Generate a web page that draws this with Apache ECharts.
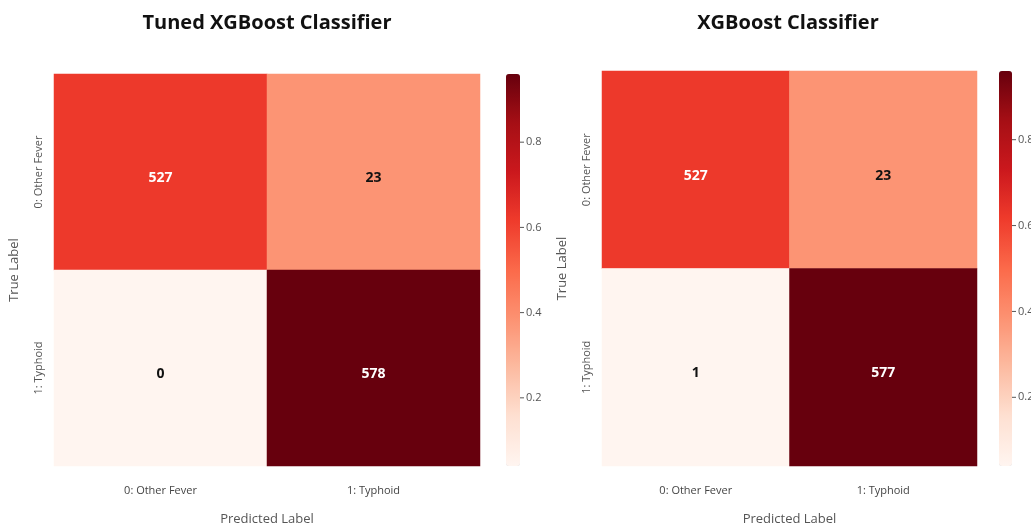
<!DOCTYPE html>
<html>
<head>
<meta charset="utf-8">
<script src="https://cdn.jsdelivr.net/npm/echarts@6/dist/echarts.min.js"></script>
<style>
  html, body { margin: 0; padding: 0; background: #fff; }
  #chart { width: 1031px; height: 527px; }
</style>
</head>
<body>
<div id="chart"></div>
<script>
// classes on both axes
const classLabels = ['0: Other Fever', '1: Typhoid']
const titles = ['Tuned XGBoost Classifier', 'XGBoost Classifier']

// confusion matrix counts, rows = true label, cols = predicted label
const tunedCounts = [[527, 23], [0, 578]]
const baseCounts = [[527, 23], [1, 577]]

// colour value of each cell
const tunedShade = [[0.62, 0.38], [0.04, 0.96]]
const baseShade = [[0.62, 0.38], [0.04, 0.96]]

// colour bar range and ticks
const barMin = 0.04
const barMax = 0.96
const barTicks = [0.2, 0.4, 0.6, 0.8]

const reds = ['#fff5f0', '#fee0d2', '#fcbba1', '#fc9272', '#fb6a4a', '#ef3b2c', '#cb181d', '#a50f15', '#67000d']

function cells(counts, shade) {
  const out = []
  counts.forEach((row, r) => {
    row.forEach((v, c) => out.push([c, r, shade[r][c], v]))
  })
  return out
}

const font = 'Open Sans'
const panels = [
  { grid: { left: 54, top: 74, width: 426, height: 392 }, bar: { left: 506, top: 74, width: 14, height: 392 }, titleX: 262 },
  { grid: { left: 602, top: 71, width: 375, height: 395 }, bar: { left: 999, top: 71, width: 13, height: 395 }, titleX: 783 }
]

const chart = echarts.init(document.getElementById('chart'))

const option = {
  backgroundColor: '#fff',
  textStyle: { fontFamily: font },
  title: panels.map((p, i) => ({
    text: titles[i],
    left: p.titleX,
    top: 8,
    textAlign: 'center',
    textStyle: { fontFamily: font, fontSize: 20, fontWeight: 'bold', color: '#111' }
  })),
  grid: [],
  xAxis: [],
  yAxis: [],
  visualMap: [],
  series: []
}

panels.forEach((p, i) => {
  // heatmap grid
  option.grid.push(Object.assign({ outerBoundsMode: 'none', containLabel: false }, p.grid))
  option.xAxis.push({
    type: 'category',
    gridIndex: i * 2,
    data: classLabels,
    axisLine: { show: false },
    axisTick: { show: false },
    splitArea: { show: false },
    axisLabel: { fontSize: 11, color: '#444', margin: 19 },
    name: 'Predicted Label',
    nameLocation: 'middle',
    nameGap: 47,
    nameTextStyle: { fontSize: 13, color: '#555' }
  })
  option.yAxis.push({
    type: 'category',
    gridIndex: i * 2,
    inverse: true,
    data: classLabels,
    axisLine: { show: false },
    axisTick: { show: false },
    splitArea: { show: false },
    axisLabel: { fontSize: 11, color: '#555', rotate: 90, margin: 10 },
    name: 'True Label',
    nameLocation: 'middle',
    nameGap: 33,
    nameTextStyle: { fontSize: 13, color: '#555' }
  })

  // colour bar axis
  option.grid.push({ outerBoundsMode: 'none', containLabel: false, left: p.bar.left, top: p.bar.top, width: p.bar.width, height: p.bar.height })
  option.xAxis.push({ type: 'value', gridIndex: i * 2 + 1, show: false })
  option.yAxis.push({
    type: 'value',
    gridIndex: i * 2 + 1,
    position: 'right',
    min: barMin,
    max: barMax,
    axisLine: { show: false },
    splitLine: { show: false },
    axisTick: { show: false },
    axisLabel: {
      margin: 0,
      customValues: barTicks,
      formatter: v => '{t| }{v|' + v.toFixed(1) + '}',
      rich: {
        t: { width: 4, height: 1, lineHeight: 1, backgroundColor: '#555', fontSize: 1 },
        v: { fontSize: 11, color: '#555', padding: [0, 0, 0, 2] }
      }
    }
  })

  option.visualMap.push({
    type: 'continuous',
    seriesIndex: i,
    dimension: 2,
    min: barMin,
    max: barMax,
    calculable: false,
    showLabel: false,
    text: null,
    padding: 0,
    left: p.bar.left,
    top: p.bar.top,
    itemWidth: p.bar.width,
    itemHeight: p.bar.height,
    inRange: { color: reds }
  })

  option.series.push({
    type: 'heatmap',
    xAxisIndex: i * 2,
    yAxisIndex: i * 2,
    data: cells(i === 0 ? tunedCounts : baseCounts, i === 0 ? tunedShade : baseShade),
    label: {
      show: true,
      offset: [0, 6],
      formatter: prm => prm.data[2] > 0.5 ? '{w|' + prm.data[3] + '}' : '{k|' + prm.data[3] + '}',
      rich: {
        w: { color: '#fff', fontSize: 14, fontWeight: 'bold', fontFamily: font },
        k: { color: '#111', fontSize: 14, fontWeight: 'bold', fontFamily: font }
      }
    },
    emphasis: { disabled: true }
  })
})

chart.setOption(option)
</script>
</body>
</html>
